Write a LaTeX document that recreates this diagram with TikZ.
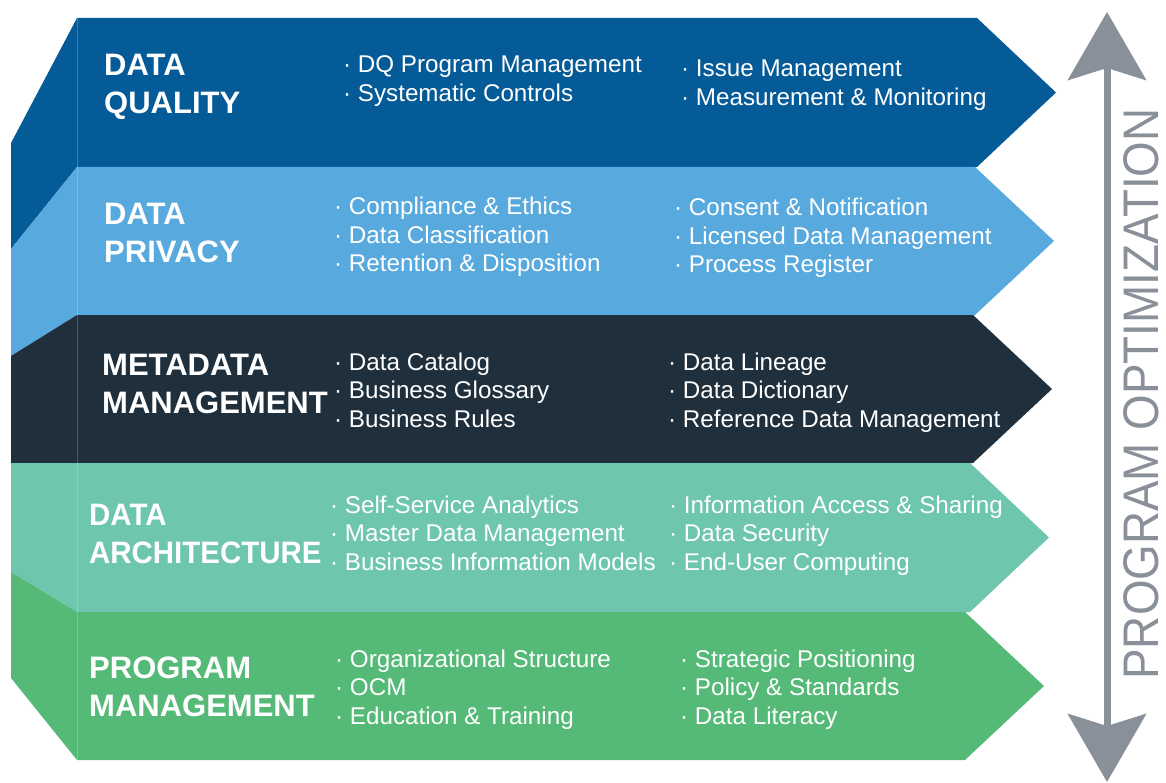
\documentclass[tikz,border=0pt]{standalone}
\usepackage{fontspec}
\newfontfamily\labelfont{Liberation Sans}
\usetikzlibrary{arrows.meta}

\definecolor{dqblue}{HTML}{045B97}
\definecolor{privblue}{HTML}{58A9DD}
\definecolor{metanavy}{HTML}{1F2F3C}
\definecolor{archteal}{HTML}{6EC6AE}
\definecolor{progreen}{HTML}{55BA77}
\definecolor{optgray}{HTML}{8A9099}

\tikzset{
  bandtitle/.style={anchor=base west, inner sep=0pt, text=white,
    font=\labelfont\bfseries\fontsize{31}{37}\selectfont},
  bandentry/.style={anchor=base west, inner sep=0pt, text=white,
    font=\labelfont\fontsize{24.2}{29}\selectfont},
  seam/.style={white, opacity=0.2, line width=0.8pt},
  opttip/.tip={Stealth[length=68pt, width=78pt, inset=12pt]},
}

% colour, top, bottom, fold top, fold bottom, right edge
\newcommand\band[6]{%
  \fill[#1] (77,#2) -- (#6,#2) -- ({#6+79},{(#2+#3)/2}) -- (#6,#3) -- (77,#3) -- cycle;
  \fill[#1] (77,#2) -- (11,#4) -- (11,#5) -- (77,#3) -- cycle;
}
% [extra style] name, x, first baseline, first line, second line
\newcommand\bandname[6][]{%
  \node[bandtitle,#1] (#2-a) at (#3,#4) {#5};
  \node[bandtitle,#1] (#2-b) at (#3,{#4+38}) {#6};
}
% name, x, first baseline, list of entries
\newcommand\entries[4]{%
  \foreach \txt [count=\k] in {#4}
    \node[bandentry] (#1-\k) at (#2,{#3+28.5*(\k-1)}) {· \txt};
}

\begin{document}
\begin{tikzpicture}[x=1pt,y=-1pt]
  \useasboundingbox (0,0) rectangle (1166,783);

  \band{dqblue}{18}{167}{143}{249}{977}
  \band{privblue}{167}{315}{249}{356}{975}
  \band{metanavy}{315}{463}{356}{463}{973}
  \band{archteal}{463}{612}{463}{572}{970}
  \band{progreen}{612}{760}{572}{678}{965}
  \draw[seam] (77,18) -- (77,760);

  \bandname{dq}{104}{76}{DATA}{QUALITY}
  \bandname{priv}{104}{225}{DATA}{PRIVACY}
  \bandname{meta}{102}{375}{METADATA}{MANAGEMENT}
  \bandname[xscale=0.95]{arch}{89}{525}{DATA}{ARCHITECTURE}
  \bandname{prog}{89}{678}{PROGRAM}{MANAGEMENT}

  \entries{dq-l}{343}{73}{DQ Program Management, Systematic Controls}
  \entries{dq-r}{681}{77}{Issue Management, Measurement \& Monitoring}
  \entries{priv-l}{334}{215}{Compliance \& Ethics, Data Classification, Retention \& Disposition}
  \entries{priv-r}{674}{216}{Consent \& Notification, Licensed Data Management, Process Register}
  \entries{meta-l}{334}{370}{Data Catalog, Business Glossary, Business Rules}
  \entries{meta-r}{668}{370}{Data Lineage, Data Dictionary, Reference Data Management}
  \entries{arch-l}{330}{513}{Self-Service Analytics, Master Data Management, Business Information Models}
  \entries{arch-r}{669}{513}{Information Access \& Sharing, Data Security, End-User Computing}
  \entries{prog-l}{335}{667}{Organizational Structure, OCM, Education \& Training}
  \entries{prog-r}{680}{667}{Strategic Positioning, Policy \& Standards, Data Literacy}

  % optimization axis
  \coordinate (opt-top) at (1107,12);
  \coordinate (opt-bot) at (1107,782);
  \draw[optgray, line width=7pt, opttip-opttip] (opt-top) -- (opt-bot);
  \node[rotate=90, xscale=0.915, inner sep=0pt, text=optgray,
    font=\labelfont\fontsize{50}{60}\selectfont] (opt-label) at (1141,394) {PROGRAM OPTIMIZATION};
\end{tikzpicture}
\end{document}
